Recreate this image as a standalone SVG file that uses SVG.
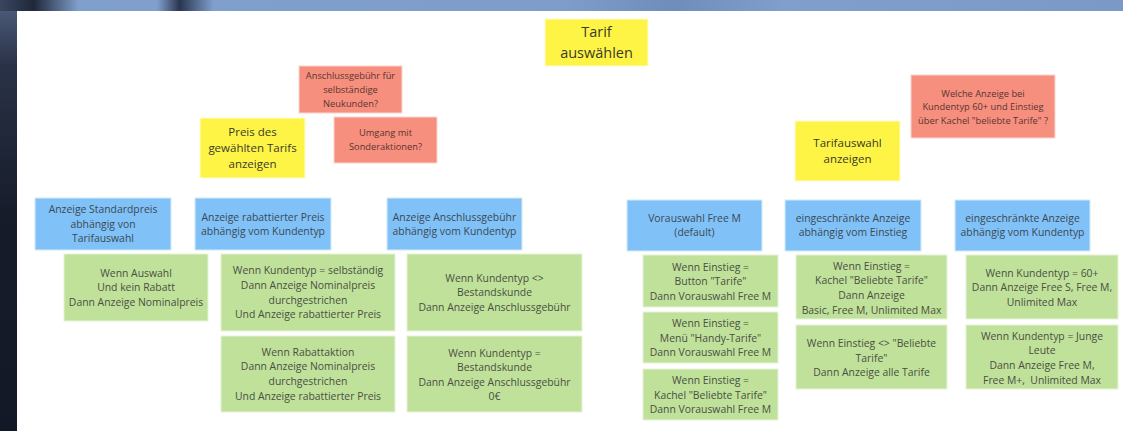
<svg xmlns="http://www.w3.org/2000/svg" width="1123" height="431" viewBox="0 0 1123 431">
<defs>
<linearGradient id="topg" x1="0" y1="0" x2="1" y2="0">
<stop offset="0" stop-color="#3a4660"/>
<stop offset="0.03" stop-color="#20283a"/>
<stop offset="0.07" stop-color="#7f9fcc"/>
<stop offset="0.14" stop-color="#809fcc"/>
<stop offset="0.16" stop-color="#2a3550"/>
<stop offset="0.19" stop-color="#7f9fcc"/>
<stop offset="0.5" stop-color="#7e9dca"/>
<stop offset="0.6" stop-color="#6f8dbb"/>
<stop offset="0.7" stop-color="#809fcc"/>
<stop offset="1" stop-color="#7a99c6"/>
</linearGradient>
<linearGradient id="leftg" x1="0" y1="0" x2="0" y2="1">
<stop offset="0" stop-color="#4f6080"/>
<stop offset="0.15" stop-color="#2a3247"/>
<stop offset="0.5" stop-color="#161c2a"/>
<stop offset="1" stop-color="#121826"/>
</linearGradient>
<style>
.y{fill:#fef445;stroke:#fffbd0;stroke-width:1}
.r{fill:#f68f7e;stroke:#fcd6cf;stroke-width:1}
.b{fill:#80c2f7;stroke:#d4ebfc;stroke-width:1}
.g{fill:#c0e19a;stroke:#e6f4d6;stroke-width:1}
text{font-family:"Open Sans","Noto Sans","Liberation Sans",sans-serif;fill:#444;text-anchor:middle}
.t1{font-size:14.5px;fill:#3a3a2a}
.t2{font-size:11.5px;fill:#3a3a2a}
.tr{font-size:9.3px;fill:#5a3530}
.tb{font-size:10.4px;fill:#3c4855}
.tg{font-size:10.4px;fill:#4a4f44}
</style>
</defs>
<g id="background">
<rect x="0" y="0" width="1123" height="431" fill="url(#leftg)"/>
<rect x="0" y="0" width="1123" height="11" fill="url(#topg)"/>
<rect x="17" y="11" width="1106" height="420" fill="#ffffff"/>
</g>
<g id="connectors"/>
<g id="n-tarif">
<rect class="y" x="545" y="19" width="103" height="47"/>
<text class="t1"><tspan x="596.5" y="37.4">Tarif</tspan><tspan x="596.5" y="58">auswählen</tspan></text>
</g>
<g id="n-anschluss-q">
<rect class="r" x="299" y="66" width="103" height="47"/>
<text class="tr"><tspan x="350.5" y="78.8">Anschlussgebühr für</tspan><tspan x="350.5" y="92.8">selbständige</tspan><tspan x="350.5" y="106.8">Neukunden?</tspan></text>
</g>
<g id="n-umgang-q">
<rect class="r" x="334" y="117" width="103" height="46"/>
<text class="tr"><tspan x="385.5" y="136.3">Umgang mit</tspan><tspan x="385.5" y="150.3">Sonderaktionen?</tspan></text>
</g>
<g id="n-preis">
<rect class="y" x="200" y="118" width="105" height="60"/>
<text class="t2"><tspan x="252.5" y="136.1">Preis des</tspan><tspan x="252.5" y="152.1">gewählten Tarifs</tspan><tspan x="252.5" y="168.1">anzeigen</tspan></text>
</g>
<g id="n-welche-q">
<rect class="r" x="911" y="75" width="144" height="63"/>
<text class="tr"><tspan x="983" y="96.6">Welche Anzeige bei</tspan><tspan x="983" y="110.3">Kundentyp 60+ und Einstieg</tspan><tspan x="983" y="124">über Kachel "beliebte Tarife" ?</tspan></text>
</g>
<g id="n-tarifauswahl">
<rect class="y" x="795" y="121" width="105" height="60"/>
<text class="t2"><tspan x="847.5" y="146.8">Tarifauswahl</tspan><tspan x="847.5" y="162.8">anzeigen</tspan></text>
</g>
<g id="b-standard">
<rect class="b" x="35" y="198" width="136" height="52"/>
<text class="tb"><tspan x="103" y="213.3">Anzeige Standardpreis</tspan><tspan x="103" y="227.7">abhängig von</tspan><tspan x="103" y="242.1">Tarifauswahl</tspan></text>
</g>
<g id="b-rabatt">
<rect class="b" x="195" y="198" width="136" height="52"/>
<text class="tb"><tspan x="263" y="220.5">Anzeige rabattierter Preis</tspan><tspan x="263" y="234.9">abhängig vom Kundentyp</tspan></text>
</g>
<g id="b-anschluss">
<rect class="b" x="387" y="198" width="135" height="52"/>
<text class="tb"><tspan x="454.5" y="220.5">Anzeige Anschlussgebühr</tspan><tspan x="454.5" y="234.9">abhängig vom Kundentyp</tspan></text>
</g>
<g id="b-vorauswahl">
<rect class="b" x="627" y="200" width="135" height="51"/>
<text class="tb"><tspan x="694.5" y="222">Vorauswahl Free M</tspan><tspan x="694.5" y="236.4">(default)</tspan></text>
</g>
<g id="b-einstieg">
<rect class="b" x="785" y="200" width="136" height="51"/>
<text class="tb"><tspan x="853" y="222">eingeschränkte Anzeige</tspan><tspan x="853" y="236.4">abhängig vom Einstieg</tspan></text>
</g>
<g id="b-kundentyp">
<rect class="b" x="955" y="200" width="135" height="51"/>
<text class="tb"><tspan x="1022.5" y="222">eingeschränkte Anzeige</tspan><tspan x="1022.5" y="236.4">abhängig vom Kundentyp</tspan></text>
</g>
<g id="g-auswahl">
<rect class="g" x="64" y="254" width="144" height="67"/>
<text class="tg"><tspan x="136" y="276.6">Wenn Auswahl</tspan><tspan x="136" y="291.2">Und kein Rabatt</tspan><tspan x="136" y="305.8">Dann Anzeige Nominalpreis</tspan></text>
</g>
<g id="g-selbst">
<rect class="g" x="221" y="254" width="174" height="77"/>
<text class="tg"><tspan x="308" y="274.3">Wenn Kundentyp = selbständig</tspan><tspan x="308" y="288.9">Dann Anzeige Nominalpreis</tspan><tspan x="308" y="303.5">durchgestrichen</tspan><tspan x="308" y="318.1">Und Anzeige rabattierter Preis</tspan></text>
</g>
<g id="g-rabattaktion">
<rect class="g" x="221" y="336" width="174" height="76"/>
<text class="tg"><tspan x="308" y="355.8">Wenn Rabattaktion</tspan><tspan x="308" y="370.4">Dann Anzeige Nominalpreis</tspan><tspan x="308" y="385">durchgestrichen</tspan><tspan x="308" y="399.6">Und Anzeige rabattierter Preis</tspan></text>
</g>
<g id="g-nicht-bestand">
<rect class="g" x="407" y="254" width="175" height="77"/>
<text class="tg"><tspan x="494.5" y="281.6">Wenn Kundentyp &lt;&gt;</tspan><tspan x="494.5" y="296.2">Bestandskunde</tspan><tspan x="494.5" y="310.8">Dann Anzeige Anschlussgebühr</tspan></text>
</g>
<g id="g-bestand">
<rect class="g" x="407" y="336" width="175" height="76"/>
<text class="tg"><tspan x="494.5" y="356.5">Wenn Kundentyp =</tspan><tspan x="494.5" y="371.1">Bestandskunde</tspan><tspan x="494.5" y="385.7">Dann Anzeige Anschlussgebühr</tspan><tspan x="494.5" y="400.3">0€</tspan></text>
</g>
<g id="g-button">
<rect class="g" x="643" y="255" width="135" height="52"/>
<text class="tg"><tspan x="710.5" y="270.6">Wenn Einstieg =</tspan><tspan x="710.5" y="285.2">Button "Tarife"</tspan><tspan x="710.5" y="299.8">Dann Vorauswahl Free M</tspan></text>
</g>
<g id="g-menue">
<rect class="g" x="643" y="312" width="135" height="51"/>
<text class="tg"><tspan x="710.5" y="327.1">Wenn Einstieg =</tspan><tspan x="710.5" y="341.7">Menü "Handy-Tarife"</tspan><tspan x="710.5" y="356.3">Dann Vorauswahl Free M</tspan></text>
</g>
<g id="g-kachel">
<rect class="g" x="643" y="369" width="135" height="51"/>
<text class="tg"><tspan x="710.5" y="384.1">Wenn Einstieg =</tspan><tspan x="710.5" y="398.7">Kachel "Beliebte Tarife"</tspan><tspan x="710.5" y="413.3">Dann Vorauswahl Free M</tspan></text>
</g>
<g id="g-einstieg-kachel">
<rect class="g" x="796" y="255" width="151" height="64"/>
<text class="tg"><tspan x="871.5" y="269.8">Wenn Einstieg =</tspan><tspan x="871.5" y="284.4">Kachel "Beliebte Tarife"</tspan><tspan x="871.5" y="299">Dann Anzeige</tspan><tspan x="871.5" y="313.6">Basic, Free M, Unlimited Max</tspan></text>
</g>
<g id="g-einstieg-alle">
<rect class="g" x="796" y="325" width="151" height="64"/>
<text class="tg"><tspan x="871.5" y="347.1">Wenn Einstieg &lt;&gt; "Beliebte</tspan><tspan x="871.5" y="361.7">Tarife"</tspan><tspan x="871.5" y="376.3">Dann Anzeige alle Tarife</tspan></text>
</g>
<g id="g-60">
<rect class="g" x="966" y="255" width="152" height="64"/>
<text class="tg"><tspan x="1042" y="276.6">Wenn Kundentyp = 60+</tspan><tspan x="1042" y="291.2">Dann Anzeige Free S, Free M,</tspan><tspan x="1042" y="305.8">Unlimited Max</tspan></text>
</g>
<g id="g-junge">
<rect class="g" x="966" y="325" width="152" height="64"/>
<text class="tg" xml:space="preserve"><tspan x="1042" y="339.8">Wenn Kundentyp = Junge</tspan><tspan x="1042" y="354.4">Leute</tspan><tspan x="1042" y="369">Dann Anzeige Free M,</tspan><tspan x="1042" y="383.6">Free M+,  Unlimited Max</tspan></text>
</g>
</svg>
